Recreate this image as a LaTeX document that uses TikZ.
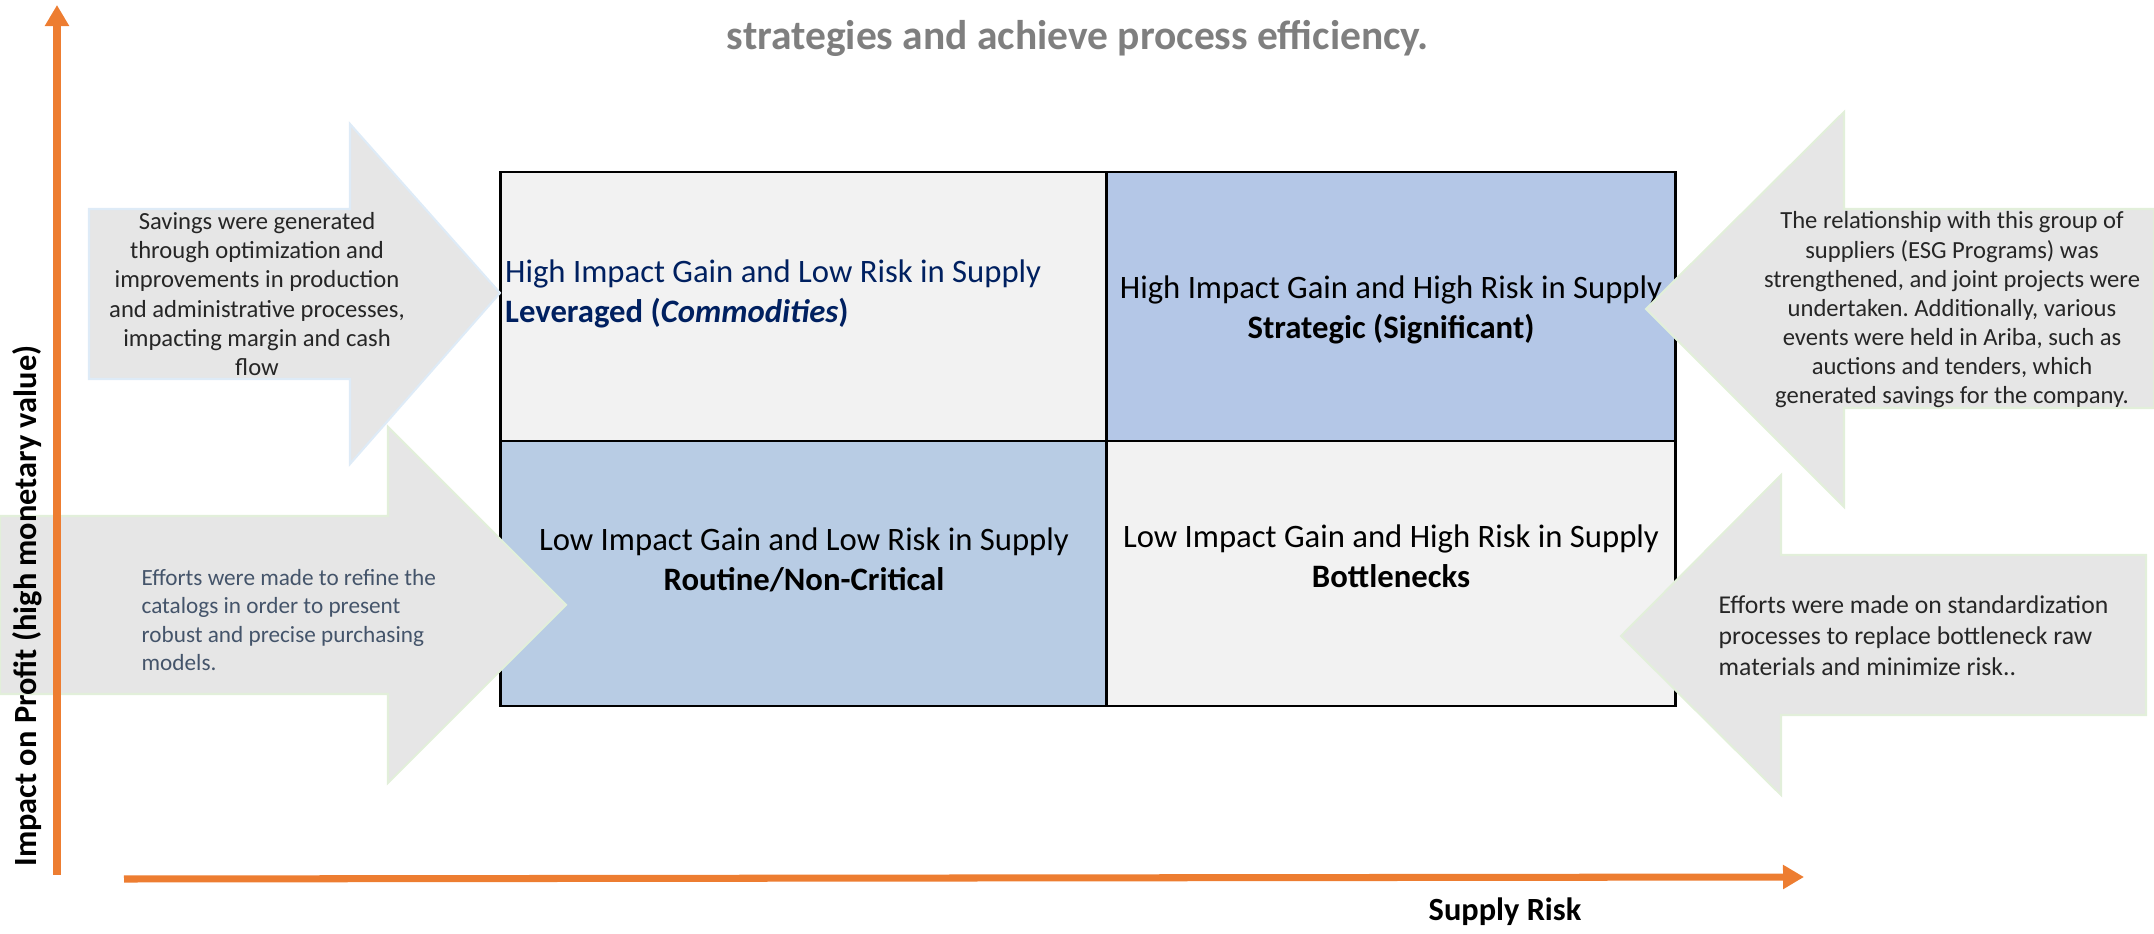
\documentclass[tikz,border=0pt]{standalone}
\usepackage{fontspec}
\setmainfont{Carlito}
\usetikzlibrary{arrows.meta}
\frenchspacing

\definecolor{axisorange}{RGB}{237,125,49}
\definecolor{cellgray}{RGB}{242,242,242}
\definecolor{cellblue}{RGB}{180,199,231}
\definecolor{cellblueb}{RGB}{184,204,228}
\definecolor{navy}{RGB}{0,32,96}
\definecolor{calloutgray}{RGB}{230,230,230}
\definecolor{calloutedge}{RGB}{226,239,218}
\definecolor{calloutedgeb}{RGB}{222,235,247}
\definecolor{slate}{RGB}{68,84,106}
\definecolor{titlegray}{RGB}{127,127,127}

\begin{document}
\begin{tikzpicture}
    [x=0.01cm, y=-0.01cm,
     cell/.style={draw=black, line width=0.8pt, inner sep=0pt, outer sep=0pt},
     quad/.style={font=\fontsize{9.3}{11.4}\selectfont, inner sep=1pt},
     callout/.style={fill=calloutgray, draw=calloutedge, line width=0.6pt},
     note/.style={font=\fontsize{7}{8.3}\selectfont, inner sep=0pt, text=black!85},
     axis/.style={draw=axisorange, line width=2pt, -{Triangle[length=0.21cm, width=0.23cm]}},
     axislabel/.style={font=\fontsize{9.2}{11}\selectfont\bfseries}]
    \useasboundingbox (0,0) rectangle (2154,934);
    % \draw[step=100,gray,very thin] (0,0) grid (2154,934);
    \node[font=\fontsize{11.8}{14}\selectfont\bfseries, text=titlegray] (head) at (1078,38) {strategies and achieve process efficiency.};

    % the four quadrants
    \node[cell, fill=cellgray,  minimum width=6.06cm, minimum height=2.69cm] (lev)   at (804,306.5)  {};
    \node[cell, fill=cellblue,  minimum width=5.68cm, minimum height=2.69cm] (strat) at (1391,306.5) {};
    \node[cell, fill=cellblueb, minimum width=6.06cm, minimum height=2.65cm] (rout)  at (804,573.5)  {};
    \node[cell, fill=cellgray,  minimum width=5.68cm, minimum height=2.65cm] (bott)  at (1391,573.5) {};

    \node[quad, anchor=west, align=left, text=navy] (levtxt) at (501,294)
        {High Impact Gain and Low Risk in Supply\\\textbf{Leveraged (\textit{Commodities})}};
    \node[quad, align=center] (strattxt) at (1391,310)
        {High Impact Gain and High Risk in Supply\\\textbf{Strategic (Significant)}};
    \node[quad, align=center] (routtxt) at (804,560)
        {Low Impact Gain and Low Risk in Supply\\\textbf{Routine/Non-Critical}};
    \node[quad, align=center] (botttxt) at (1391,556)
        {Low Impact Gain and High Risk in Supply\\\textbf{Bottlenecks}};

    % block arrows pointing at the quadrants
    \draw[callout, draw=calloutedgeb] (89,209) -- (350,209) -- (350,124) -- (500,293) -- (350,464) -- (350,379) -- (89,379) -- cycle;
    \draw[callout] (0,516) -- (388,516) -- (388,427) -- (566,605) -- (388,783) -- (388,694) -- (0,694) -- cycle;
    \draw[callout] (2154,209) -- (1844,209) -- (1844,112) -- (1646,309) -- (1844,507) -- (1844,408) -- (2154,408) -- cycle;
    \draw[callout] (2146,555) -- (1781,555) -- (1781,475) -- (1621,636) -- (1781,795) -- (1781,715) -- (2146,715) -- cycle;

    \node[note, align=center] (saving) at (257,294)
        {Savings were generated\\through optimization and\\improvements in production\\and administrative processes,\\impacting margin and cash\\flow};
    \node[note, anchor=west, align=left, text=slate, font=\fontsize{6.6}{8}\selectfont] (catalog) at (141,620)
        {Efforts were made to refine the\\catalogs in order to present\\robust and precise purchasing\\models.};
    \node[note, align=center] (esg) at (1952,310)
        {The relationship with this group of\\suppliers (ESG Programs) was\\strengthened, and joint projects were\\undertaken. Additionally, various\\events were held in Ariba, such as\\auctions and tenders, which\\generated savings for the company.};
    \node[note, anchor=west, align=left, font=\fontsize{7.3}{8.8}\selectfont] (standard) at (1718,636)
        {Efforts were made on standardization\\processes to replace bottleneck raw\\materials and minimize risk..};

    % axes
    \coordinate (ybot) at (57,875);
    \coordinate (ytop) at (57,5);
    \coordinate (xleft) at (124,879);
    \coordinate (xright) at (1804,877);
    \draw[axis] (ybot) -- (ytop);
    \draw[axis] (xleft) -- (xright);
    \node[axislabel, rotate=90] (profit) at (27,606) {Impact on Profit (high monetary value)};
    \node[axislabel] (risk) at (1505,912) {Supply Risk};
\end{tikzpicture}
\end{document}
